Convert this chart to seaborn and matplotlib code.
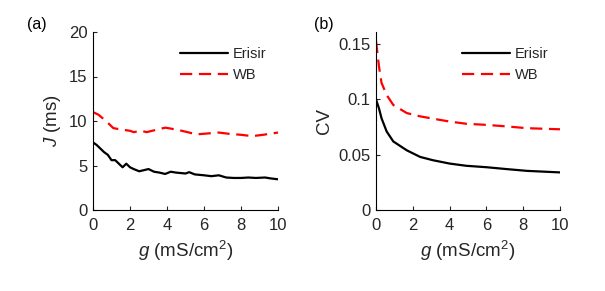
import numpy as np
import pandas as pd
import matplotlib
matplotlib.use("Agg")
import matplotlib.pyplot as plt
import seaborn as sns

# Panel (a): jitter J (ms)
g_j_erisir = [0, 0.2, 0.4, 0.6, 0.8, 1.0, 1.2, 1.4, 1.6, 1.8, 2.0, 2.2, 2.5, 2.8, 3.0, 3.3,
              3.6, 3.9, 4.2, 4.5, 5.0, 5.2, 5.5, 6.0, 6.4, 6.8, 7.2, 7.6, 8.0, 8.4, 8.8, 9.3, 9.6, 10]
j_erisir = [7.6, 7.3, 6.9, 6.5, 6.2, 5.6, 5.6, 5.2, 4.8, 5.2, 4.8, 4.6, 4.35, 4.5, 4.6, 4.3,
            4.2, 4.05, 4.3, 4.2, 4.1, 4.25, 4.0, 3.9, 3.8, 3.9, 3.65, 3.6, 3.6, 3.65, 3.6, 3.65, 3.55, 3.45]
g_j_wb = [0, 0.3, 0.7, 1.1, 1.5, 2.0, 2.2, 2.6, 2.9, 3.4, 3.9, 4.2, 4.8, 5.6, 6.2, 6.8,
          7.4, 8.0, 8.6, 9.2, 10]
j_wb = [11.0, 10.7, 10.0, 9.2, 9.05, 8.9, 8.75, 8.9, 8.75, 9.0, 9.25, 9.15, 8.9, 8.5, 8.6, 8.7,
        8.55, 8.45, 8.3, 8.45, 8.7]

# Panel (b): CV
g_cv = [0, 0.16, 0.3, 0.58, 0.94, 1.67, 2.4, 3.1, 4.0, 4.9, 6.0, 7.1, 8.2, 10]
cv_erisir = [0.100, 0.092, 0.083, 0.071, 0.062, 0.054, 0.048, 0.045, 0.042, 0.040, 0.0387, 0.037, 0.0354, 0.034]
cv_wb = [0.153, 0.130, 0.115, 0.104, 0.095, 0.0877, 0.0847, 0.0826, 0.080, 0.078, 0.077, 0.0756, 0.074, 0.073]

series_names = ["Erisir", "WB"]
x_ticks = [0, 2, 4, 6, 8, 10]

sns.set_theme(style="white")
plt.rcParams['font.family'] = ['Liberation Sans', 'DejaVu Sans']
plt.rcParams['mathtext.fontset'] = 'custom'
plt.rcParams['mathtext.rm'] = 'Liberation Sans'
plt.rcParams['mathtext.it'] = 'Liberation Sans:italic'

df_j = pd.concat([
    pd.DataFrame({"g": g_j_erisir, "v": j_erisir, "model": series_names[0]}),
    pd.DataFrame({"g": g_j_wb, "v": j_wb, "model": series_names[1]}),
])
df_cv = pd.concat([
    pd.DataFrame({"g": g_cv, "v": cv_erisir, "model": series_names[0]}),
    pd.DataFrame({"g": g_cv, "v": cv_wb, "model": series_names[1]}),
])

fig = plt.figure(figsize=(6.05, 2.91), dpi=100)
ax1 = fig.add_axes([93/605, 1 - 210/291, 185/605, 178/291])
ax2 = fig.add_axes([376/605, 1 - 210/291, 184/605, 178/291])

palette = {"Erisir": "black", "WB": "#ff0000"}
dashes = {"Erisir": "", "WB": (5.5, 3)}
txt = "#262626"

for ax, df in [(ax1, df_j), (ax2, df_cv)]:
    sns.lineplot(data=df, x="g", y="v", hue="model", style="model", palette=palette,
                 dashes=dashes, linewidth=1.6, ax=ax, legend=True)
    ax.set_xlim(0, 10)
    ax.set_xticks(x_ticks)
    for s in ["top", "right"]:
        ax.spines[s].set_visible(False)
    for s in ["left", "bottom"]:
        ax.spines[s].set_color("black")
        ax.spines[s].set_linewidth(0.8)
    ax.tick_params(direction="in", length=3, width=0.8, labelsize=12, colors=txt,
                   left=True, bottom=True)
    ax.tick_params(axis="x", pad=6)
    ax.tick_params(axis="y", pad=4)
    ax.set_xlabel("$g$ (mS/cm$^2$)", fontsize=13.5, color=txt, labelpad=4)
    leg = ax.legend(loc="upper right", frameon=False, fontsize=10.5, handlelength=3.3,
                    handletextpad=0.3, borderaxespad=0.4, labelspacing=0.45,
                    bbox_to_anchor=(1.0, 0.98))
    leg.set_title(None)

ax1.set_ylim(0, 20)
ax1.set_yticks([0, 5, 10, 15, 20])
ax1.set_ylabel("$J$ (ms)", fontsize=13.5, color=txt, labelpad=4)
ax2.set_ylim(0, 0.161)
ax2.set_yticks([0, 0.05, 0.1, 0.15])
ax2.set_yticklabels(["0", "0.05", "0.1", "0.15"])
ax2.set_ylabel("CV", fontsize=13.5, color=txt, labelpad=4)

fig.text(27/605, 1 - 25/291, "(a)", fontsize=11.5, va="center", ha="left", color="black")
fig.text(314/605, 1 - 25/291, "(b)", fontsize=11.5, va="center", ha="left", color="black")

fig.savefig("out.png", dpi=100)
